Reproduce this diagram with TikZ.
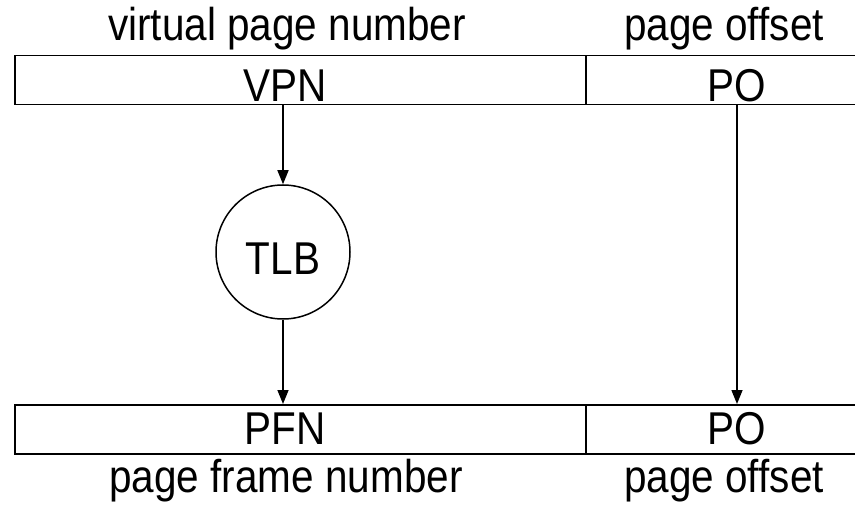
\documentclass[tikz,border=0pt]{standalone}
\usepackage{fontspec}
\setmainfont[FakeStretch=0.88]{Liberation Sans}
\usetikzlibrary{arrows.meta,positioning}

\begin{document}
\begin{tikzpicture}[x=1pt,y=-1pt,line width=1.5pt,>={Triangle[length=14pt,width=11pt]},
  lbl/.style={anchor=base,inner sep=0pt,font=\fontsize{46}{52}\selectfont},
  field/.style={draw,rectangle,inner sep=0pt,minimum height=49pt,anchor=north west}]
		\clip (0,0) rectangle (855,505);
		% top
		\node[lbl] (vpnname) at (287,41) {virtual page number};
		\node[lbl] (poname) at (724,41) {page offset};
		\node[field,minimum width=571pt] (vpnbox) at (14,55) {};
		\node[field,minimum width=320pt] (pobox) at (585,55) {};
		\node[lbl] (vpn) at (285,102) {VPN};
		\node[lbl] (po) at (737,102) {PO};
		
		% tlb
		\node[draw,circle,minimum size=134pt,inner sep=0pt,text height=45pt,text depth=0pt,
		  font=\fontsize{46}{52}\selectfont] (tlb) at (283,252) {TLB};
		
		% bottom
		\node[field,minimum width=571pt] (pfnbox) at (14,404) {};
		\node[field,minimum width=320pt] (pobox2) at (585,404) {};
		\node[lbl] (pfn) at (285,444) {PFN};
		\node[lbl] (po2) at (737,444) {PO};
		\node[lbl] (pfnname) at (286,492) {page frame number};
		\node[lbl] (poname2) at (724,492) {page offset};
		
		% arrows
		\draw[->] (vpnbox.south -| tlb) -- (tlb);
		\draw[->] (tlb) -- (tlb |- pfnbox.north);
		\draw[->] (pobox.south -| po) -- (pobox2.north -| po);
\end{tikzpicture}
\end{document}
